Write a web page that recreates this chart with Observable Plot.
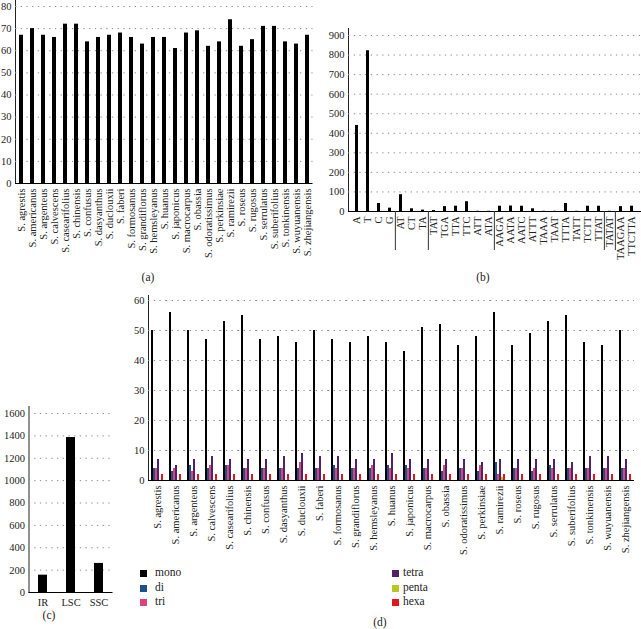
<!DOCTYPE html>
<html><head><meta charset="utf-8">
<script src="https://cdn.jsdelivr.net/npm/d3@7"></script>
<script src="https://cdn.jsdelivr.net/npm/@observablehq/plot@0.6"></script>
<style>
body{margin:0;background:#fff;}
#root{position:relative;width:641px;height:629px;overflow:hidden;font-family:"Liberation Serif",serif;color:#222;}
.panel{position:absolute;}
.panel svg{overflow:visible;}
.lab{position:absolute;font-size:11.5px;line-height:1;white-space:nowrap;}
.sw{position:absolute;width:7px;height:7px;}
</style></head><body><div id="root"></div>
<script>
// ---------- data ----------
const species = ["S. agrestis","S. americanus","S. argenteus","S. calvescens","S. casearifolius","S. chinensis","S. confusus","S. dasyanthus","S. duclouxii","S. faberi","S. formosanus","S. grandiflorus","S. hemsleyanus","S. huanus","S. japonicus","S. macrocarpus","S. obassia","S. odoratissimus","S. perkinsiae","S. ramirezii","S. roseus","S. rugosus","S. serrulatus","S. suberifolius","S. tonkinensis","S. wuyuanensis","S. zhejiangensis"];
const totalSSR = [67,70,67,66,72,72,64,66,67,68,66,63,66,66,61,68,69,62,64,74,62,65,71,71,64,63,67];

const motifs = ["A","T","C","G","AT","CT","TA","TAT","TGA","TTA","TTC","ATT","ATA","AAGA","AATA","AATC","ATTT","TAAA","TAAT","TTTA","TATT","TCTT","TTAT","TATAT","TAAGAA","TTCTTA"];
const motifCounts = [440,822,41,17,86,14,7,5,25,27,50,1,1,27,28,27,14,1,1,41,1,27,27,1,25,27];
const motifGroupStarts = ["AT","TAT","AAGA","TATAT","TAAGAA"];

const regions = ["IR","LSC","SSC"];
const regionCounts = [155,1385,260];

const types = ["mono","di","tri","tetra","penta","hexa"];
const typeColors = ["#000000","#1d4f8c","#d9457b","#4f2466","#b9c521","#e3141c"];
const mono  = [50,56,50,47,53,55,47,48,46,50,47,46,48,46,43,51,52,45,48,56,45,49,53,55,46,45,50];
const di    = [4,3,5,4,5,4,4,4,4,4,5,4,4,5,5,4,3,4,3,6,4,3,5,4,4,4,4];
const tri   = [4,4,3,5,5,4,4,4,6,4,4,4,5,4,4,4,5,4,5,2,4,4,4,4,4,4,4];
const tetra = [7,5,7,8,7,7,7,8,9,8,8,7,7,9,7,7,7,7,6,7,7,7,7,6,8,8,7];
const penta = [0,0,0,0,0,0,0,0,0,0,0,0,0,0,0,0,0,0,0,1,0,0,0,0,0,0,0];
const hexa  = [2,2,2,2,2,2,2,2,2,2,2,2,2,2,2,2,2,2,2,2,2,2,2,2,2,2,2];

const ticksA = [0,10,20,30,40,50,60,70,80];
const ticksB = [0,100,200,300,400,500,600,700,800,900];
const ticksC = [0,200,400,600,800,1000,1200,1400,1600];
const ticksD = [0,10,20,30,40,50,60];

// ---------- helpers ----------
const root = document.getElementById("root");
const FONT = "'Liberation Serif', serif";
const plain = d3.format("d");
const gridStyle = {stroke:"#8c8c8c", strokeDasharray:"1.3,4.4", strokeWidth:1};
function place(node, left, top){
  const d = document.createElement("div");
  d.className = "panel"; d.style.left = left+"px"; d.style.top = top+"px";
  d.appendChild(node); root.appendChild(d);
}
function label(text, x, y, center){
  const s = document.createElement("div");
  s.className = "lab"; s.textContent = text;
  s.style.left = x+"px"; s.style.top = y+"px";
  if (center) s.style.transform = "translateX(-50%)";
  root.appendChild(s);
}
const baseStyle = {fontFamily: FONT, fontSize:"11px", color:"#222", background:"transparent", overflow:"visible"};

// ---------- panel (a) ----------
const dataA = species.map((s,i)=>({species:s, total:totalSSR[i]}));
place(Plot.plot({
  width: 320, height: 270,
  marginLeft: 15, marginRight: 7.5, marginTop: 0, marginBottom: 87,
  style: {...baseStyle, fontSize:"10.5px"},
  x: {domain: species, paddingInner: 0.6, paddingOuter: 0.3, tickRotate: -90, tickSize: 0, tickPadding: 5, label: null},
  y: {domain: [0, 82.7], ticks: ticksA, tickSize: 0, tickPadding: 4, label: null, line: true, tickFormat: plain},
  marks: [
    Plot.ruleY(ticksA.filter(t=>t>0), gridStyle),
    Plot.barY(dataA, {x:"species", y:"total", fill:"#000"}),
    Plot.ruleY([0], {stroke:"#000"})
  ]
}), 0, 0);

// ---------- panel (b) ----------
const wB = 315, mlB = 22, mrB = 0, piB = 0.7, poB = 0.35;
const stepB = (wB - mlB - mrB) / (motifs.length - piB + 2*poB);
const dataB = motifs.map((m,i)=>({motif:m, count:motifCounts[i]}));
place(Plot.plot({
  width: wB, height: 270,
  marginLeft: mlB, marginRight: mrB, marginTop: 28, marginBottom: 59,
  style: {...baseStyle, fontSize:"10.5px"},
  x: {domain: motifs, paddingInner: piB, paddingOuter: poB, tickRotate: -90, tickSize: 0, tickPadding: 5, label: null},
  y: {domain: [0, 935.8], ticks: ticksB, tickSize: 0, tickPadding: 4, label: null, line: true, tickFormat: plain},
  marks: [
    Plot.ruleY(ticksB.filter(t=>t>0), gridStyle),
    Plot.barY(dataB, {x:"motif", y:"count", fill:"#000"}),
    Plot.ruleY([0], {stroke:"#000"}),
    Plot.ruleX(motifGroupStarts, {x: d=>d, dx: -stepB/2, insetTop: 183, insetBottom: -39, stroke:"#333", strokeWidth: 1})
  ]
}), 326, 0);

// ---------- panel (c) ----------
const dataC = regions.map((r,i)=>({region:r, count:regionCounts[i]}));
place(Plot.plot({
  width: 120, height: 240,
  marginLeft: 28.5, marginRight: 7.5, marginTop: 26, marginBottom: 28,
  style: {...baseStyle, fontSize:"10.5px"},
  x: {domain: regions, paddingInner: 0.68, paddingOuter: 0.34, tickSize: 0, tickPadding: 6, label: null},
  y: {domain: [0, 1662.6], ticks: ticksC, tickSize: 0, tickPadding: 4, label: null, line: true, tickFormat: plain},
  marks: [
    Plot.ruleY(ticksC.filter(t=>t>0), gridStyle),
    Plot.barY(dataC, {x:"region", y:"count", fill:"#000"}),
    Plot.ruleY([0], {stroke:"#000"})
  ]
}), 0, 380);

// ---------- panel (d) ----------
const series = {mono, di, tri, tetra, penta, hexa};
const dataD = [];
species.forEach((s,i)=>types.forEach(t=>dataD.push({species:s, type:t, value:series[t][i]})));
place(Plot.plot({
  width: 521, height: 275,
  marginLeft: 22, marginRight: 2, marginTop: 5, marginBottom: 85,
  style: {...baseStyle, fontSize:"10.5px"},
  facet: {data: dataD, x: "species"},
  fx: {domain: species, padding: 0, axis: "bottom", tickRotate: -90, tickSize: 0, tickPadding: 5, label: null},
  x: {domain: types, paddingInner: 0, paddingOuter: 0.54, axis: null},
  y: {domain: [0, 61.67], ticks: ticksD, tickSize: 0, tickPadding: 4, label: null, line: true, tickFormat: plain},
  color: {domain: types, range: typeColors},
  marks: [
    Plot.ruleY(ticksD.filter(t=>t>0), gridStyle),
    Plot.barY(dataD, {x:"type", y:"value", fill:"type"}),
    Plot.ruleY([0], {stroke:"#000"})
  ]
}), 120, 290);

// ---------- legend (d) ----------
const legRows = [567, 582, 596];
types.forEach((t,i)=>{
  const col = i < 3 ? 0 : 1, row = i % 3;
  const sx = col ? 392 : 140, tx = col ? 403 : 155;
  const sw = document.createElement("div");
  sw.className = "sw"; sw.style.background = typeColors[i];
  sw.style.left = sx+"px"; sw.style.top = (legRows[row]+3)+"px";
  root.appendChild(sw);
  label(t, tx, legRows[row]);
});

// ---------- panel captions ----------
label("(a)", 148, 272, true);
label("(b)", 483, 272, true);
label("(c)", 49, 610, true);
label("(d)", 380, 617, true);
</script>
</body></html>
